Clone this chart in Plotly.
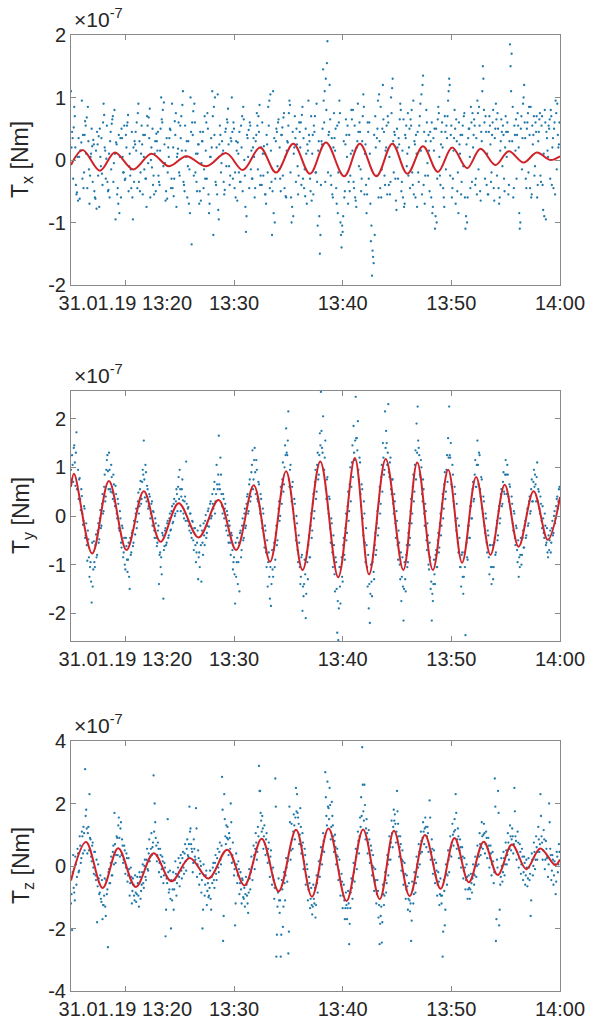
import pandas as pd
import plotly.graph_objects as go

W, H = 591, 1023
BASE = pd.Timestamp("2019-01-31 13:15:00")

# ---------------- data (units of 1e-7 Nm, time in minutes after 13:15) -------------
tick_times = ["2019-01-31 13:20", "2019-01-31 13:30", "2019-01-31 13:40",
              "2019-01-31 13:50", "2019-01-31 14:00"]
tick_text = ["31.01.19 13:20", "13:30", "13:40", "13:50", "14:00"]

# fitted (red) curves: extrema
tx_fit_t = [0, 1.07, 2.66, 4.04, 5.72, 7.40, 9.02, 10.61, 12.45, 14.28, 15.81, 17.40, 18.87,
            20.46, 21.99, 23.46, 25.14, 26.58, 28.10, 29.57, 30.95, 32.39, 33.76, 35.08,
            36.45, 37.68, 39.06, 40.28, 41.65, 42.87, 44.10, 45.0]
tx_fit_v = [-0.08, 0.16, -0.17, 0.12, -0.15, 0.10, -0.10, 0.06, -0.10, 0.11, -0.16, 0.20, -0.20,
            0.26, -0.22, 0.28, -0.26, 0.26, -0.26, 0.26, -0.22, 0.22, -0.19, 0.20,
            -0.13, 0.18, -0.08, 0.14, -0.04, 0.12, 0.00, 0.06]

ty_fit_t = [0, 0.28, 1.95, 3.49, 5.11, 6.70, 8.23, 9.91, 11.74, 13.58, 15.20, 16.82, 18.32,
            19.79, 21.31, 22.94, 24.59, 26.12, 27.43, 28.96, 30.58, 31.86, 33.30, 34.71,
            35.99, 37.28, 38.60, 39.91, 41.19, 42.57, 43.88, 45.0]
ty_fit_v = [0.60, 0.87, -0.77, 0.72, -0.70, 0.51, -0.53, 0.26, -0.44, 0.33, -0.70, 0.63, -0.94,
            0.92, -1.11, 1.12, -1.26, 1.19, -1.20, 1.17, -1.11, 1.10, -1.11, 0.95,
            -0.96, 0.80, -0.80, 0.64, -0.63, 0.51, -0.49, 0.39]

tz_fit_t = [0, 1.38, 2.91, 4.34, 5.96, 7.61, 9.24, 10.92, 12.66, 14.38, 15.96, 17.55, 19.11,
            20.71, 22.17, 23.70, 25.35, 26.88, 28.41, 29.72, 31.16, 32.57, 34.01, 35.29,
            36.61, 37.98, 39.27, 40.58, 41.90, 43.18, 44.56, 45.0]
tz_fit_v = [-0.46, 0.77, -0.70, 0.57, -0.67, 0.41, -0.49, 0.26, -0.40, 0.52, -0.62, 0.87, -0.81,
            1.16, -0.98, 1.20, -1.12, 1.17, -1.06, 1.13, -0.96, 0.99, -0.73, 0.90,
            -0.52, 0.78, -0.29, 0.69, -0.10, 0.56, 0.03, 0.21]

# measured torques (blue dots): two interleaved sample sets, each one value every 6 s
tx_dots_a = [
    1.10, 0.45, -0.30, 0.85, 0.20, -0.55, 0.05, 0.35, -0.62, 0.15,
    0.95, 0.40, -0.20, 0.62, 0.10, -0.45, 0.30, -0.70, 0.05, 0.50,
    -0.35, 0.25, -0.60, 0.15, 0.45, -0.25, -0.75, 0.05, 0.35, -0.40,
    0.90, 0.20, -0.30, 0.55, -0.50, 0.10, 0.30, -0.15, 0.65, -0.35,
    0.80, -0.95, 0.25, -0.45, 0.40, 0.05, -0.60, 0.35, -0.20, 0.55,
    -0.30, 0.20, 0.60, -0.50, 0.10, -0.15, 0.45, -0.95, -0.35, 0.25,
    0.15, -0.45, 0.90, 0.30, -0.20, 0.55, -0.55, 0.05, 0.40, -0.30,
    0.70, -0.05, 0.35, -0.60, 0.20, 0.50, -0.25, 0.10, -0.50, 0.30,
    0.45, -0.35, 0.15, 1.00, 0.60, -0.10, 0.25, -0.65, 0.35, -0.20,
    0.05, 0.50, -0.45, 0.90, 0.20, -0.30, 0.40, -0.75, 0.10, 0.60,
    -0.25, 0.35, 0.15, 1.10, -0.40, 0.55, 0.05, -0.60, 0.30, -0.15,
    1.00, -1.35, 0.40, -0.25, 0.60, 0.10, -0.50, 0.25, -0.70, 0.45,
    -0.05, 0.30, -0.45, 0.70, 0.15, -0.30, 0.50, -0.85, 0.05, 0.35,
    1.10, -1.20, 0.40, -0.35, 0.20, 1.05, -0.95, 0.55, -0.20, 0.30,
    0.15, -0.55, 0.45, -0.10, 0.60, 0.25, -0.40, 0.35, 1.00, -0.30,
    0.50, -0.20, 0.30, -0.65, 0.10, 0.45, -0.35, 0.20, -0.50, 0.65,
    -0.25, -1.15, 0.40, 0.05, -0.45, 0.55, 0.15, -0.30, 0.35, -0.60,
    0.30, 0.75, -0.15, 0.45, -0.40, 0.20, 0.60, -0.25, 0.10, -0.55,
    0.40, -0.20, 0.55, -0.45, 0.15, -1.20, 1.10, 0.35, -0.30, 0.50,
    -0.10, 0.65, 0.20, -0.50, 0.40, -0.25, 0.75, 0.05, -0.60, 0.30,
    0.55, 0.95, -0.20, -1.00, 0.45, 0.10, 0.70, -0.35, 0.25, -0.55,
    0.60, 0.20, -0.40, 0.85, 0.35, -0.15, 0.50, -0.70, 0.15, 0.40,
    -0.30, 0.70, 0.10, -0.55, 0.45, -0.20, 0.90, -1.05, 0.30, -1.50,
    -0.40, 0.25, 1.45, 0.60, -0.35, 0.80, 1.90, 0.40, 1.20, -0.25,
    0.35, -0.60, 0.75, 0.15, -0.45, 0.55, -0.20, 0.95, -1.00, -1.40,
    -1.15, 0.30, -0.50, 0.65, 0.05, -0.70, 0.40, -0.25, 0.80, 0.15,
    -0.35, 0.55, -0.65, 0.20, 0.90, -0.10, 0.45, -0.50, 0.30, 1.05,
    -0.55, 0.25, -0.85, 0.60, -0.30, 0.10, -1.30, -1.85, -1.55, 0.40,
    0.70, -0.25, 0.50, -0.60, 0.30, 0.85, -0.15, 1.20, 0.45, -0.40,
    0.20, -0.55, 0.60, 0.05, -0.35, 0.75, 1.30, -0.20, 0.40, -0.65,
    0.50, -0.30, 0.25, 0.90, -0.50, 0.15, 0.65, -0.70, 0.35, -0.10,
    0.75, 0.20, -0.45, 0.55, -0.20, 0.95, 0.30, -0.60, 0.10, 0.45,
    -0.35, 0.70, 0.15, -0.55, 1.35, 0.45, -0.25, 0.80, -0.05, 0.40,
    -0.50, 0.30, 0.60, -0.75, 0.15, -1.10, 0.50, -0.30, 0.85, 0.05,
    -0.40, 0.45, 0.20, -0.60, 0.70, -0.15, 0.35, 0.95, 1.30, -0.25,
    0.55, -0.45, 0.15, 0.80, -0.70, 0.30, -0.20, 0.60, 0.10, -0.55,
    0.40, -0.10, 0.75, -1.10, 0.25, -0.60, 0.50, 0.05, 0.85, -0.35,
    0.20, 0.65, -0.40, 0.35, 0.95, -0.15, 0.55, -0.65, 0.30, 1.50,
    0.80, -0.30, 0.45, 0.10, -0.55, 0.70, 0.25, -0.20, 0.60, -0.45,
    0.35, 0.90, -0.25, 0.50, -0.70, 0.15, 0.65, -0.10, 0.40, -0.50,
    0.70, 0.05, 0.45, -0.40, 1.85, 1.10, 0.30, -0.60, 0.55, 0.15,
    -0.30, 0.75, 0.20, -1.10, 0.50, -0.15, 0.90, 1.20, 0.35, -0.45,
    0.60, -0.20, 0.40, 0.85, -0.55, 0.25, 0.70, -0.10, 0.45, -0.60,
    0.30, 0.65, -0.25, 0.55, -0.40, 0.10, 0.80, -0.95, 0.35, 0.05,
    0.50, -0.30, 0.70, 0.20, -0.45, 0.60, 0.95, -0.15, 0.40, 0.25,
]
tx_dots_b = [
    0.20, 0.35, 0.52, 0.70, -0.40, -0.52, -0.65, 0.05, 0.15, 0.28,
    -0.30, -0.45, 0.40, 0.55, 0.68, 0.85, -0.15, -0.25, 0.10, 0.22,
    0.32, -0.50, -0.62, -0.78, 0.25, 0.38, 0.50, -0.10, -0.22, 0.60,
    0.72, 0.15, 0.02, -0.35, -0.48, -0.60, 0.45, 0.58, 0.70, -0.05,
    0.10, 0.28, -0.55, -0.70, -0.85, 0.35, 0.50, 0.05, -0.20, -0.32,
    0.40, 0.55, 0.72, -0.10, -0.25, -0.45, -0.60, 0.20, 0.30, 0.45,
    0.60, 0.75, -0.35, -0.50, 0.10, 0.25, 0.40, -0.15, -0.30, -0.75,
    0.55, 0.68, 0.82, 0.00, -0.12, -0.40, -0.55, 0.30, 0.42, 0.15,
    -0.25, -0.40, 0.50, 0.65, 0.80, 0.92, -0.05, -0.50, -0.62, 0.20,
    0.35, 0.48, -0.30, -0.45, -0.58, 0.62, 0.75, 0.05, 0.18, -0.20,
    0.55, 0.70, 0.88, -0.35, -0.50, 0.15, 0.30, -0.10, -0.70, -0.85,
    0.45, 0.60, 0.78, 0.90, -0.20, -0.35, 0.10, 0.25, -0.50, -0.65,
    0.30, 0.45, -0.15, -0.30, 0.60, 0.75, -0.55, -0.70, 0.05, 0.20,
    0.70, 0.85, 1.00, -0.40, -0.55, -0.80, 0.25, 0.40, -0.05, 0.10,
    -0.35, -0.48, 0.50, 0.65, 0.82, -0.10, -0.25, 0.30, 0.45, 0.60,
    -0.45, -0.60, 0.15, 0.28, -0.20, -0.35, 0.55, 0.70, 0.85, 0.00,
    -0.75, -0.90, 0.35, 0.48, 0.60, -0.15, -0.30, 0.20, 0.05, -0.45,
    0.40, 0.55, 0.70, 0.88, -0.25, -0.40, 0.10, 0.22, -0.55, -0.70,
    0.25, 0.85, 0.95, 1.05, -0.35, -0.50, -0.85, -1.00, 0.30, 0.45,
    0.60, -0.15, -0.30, 0.40, 0.52, 0.68, -0.45, -0.58, 0.15, 0.28,
    0.75, 0.88, -0.60, -0.75, -0.90, 0.20, 0.35, 0.50, -0.10, -0.25,
    0.45, 0.60, 0.72, -0.30, -0.45, -0.58, 0.10, 0.25, 0.95, 0.30,
    -0.50, -0.65, 0.40, 0.55, 0.70, -0.20, -0.35, 0.15, -0.90, -1.20,
    0.30, 0.50, 0.95, 1.10, 1.30, 1.55, -0.20, 0.45, 0.65, -0.40,
    -0.55, 0.20, 0.35, 0.50, -0.70, -0.85, 0.60, 0.75, -1.20, -1.05,
    -0.90, -0.60, 0.25, 0.40, 0.55, -0.35, -0.50, 0.10, 0.65, 0.80,
    -0.45, -0.60, -0.75, 0.30, 0.45, 0.60, -0.15, -0.30, 0.70, 0.85,
    0.10, -0.40, -0.55, 0.45, 0.60, -0.70, -1.05, -1.45, -1.65, -1.20,
    0.20, 0.35, 0.95, 1.05, -0.45, -0.60, 0.50, 0.65, -0.25, 0.15,
    0.55, 0.70, -0.40, -0.55, 1.00, 1.15, 0.30, 0.45, -0.30, -0.80,
    0.20, 0.35, 0.65, 0.80, -0.35, -0.60, -0.75, 0.40, 0.55, 0.10,
    -0.25, 0.50, 0.65, 0.80, -0.40, -0.55, 0.25, 0.40, -0.75, -0.20,
    0.55, 0.90, 1.05, 1.20, -0.40, -0.70, 0.30, 0.60, -0.25, 0.15,
    0.45, -0.60, -0.85, 0.35, 0.50, -0.90, -1.00, 0.65, 0.75, -0.25,
    0.25, 0.60, -0.45, -0.75, 0.45, 0.55, 0.70, 1.10, 1.20, 0.40,
    -0.60, -0.30, 0.35, 0.50, 0.65, -0.50, -0.85, 0.25, 0.40, -0.35,
    0.55, 0.70, -0.60, -0.90, -1.00, 0.35, 0.50, -0.45, 0.60, 0.75,
    0.40, 0.55, -0.30, -0.55, 0.75, 0.85, -0.50, 0.45, 1.10, 1.30,
    0.60, 0.70, -0.40, -0.55, 0.45, 0.55, -0.35, 0.40, 0.80, -0.65,
    0.50, 0.65, 0.75, -0.45, -0.60, 0.30, 0.45, 0.55, -0.30, 0.20,
    0.45, 0.60, -0.55, 0.30, 1.50, 1.70, 0.85, -0.45, 0.40, 0.65,
    0.40, 0.55, -0.85, -1.00, 0.70, 0.35, 1.00, 0.60, -0.30, 0.50,
    0.75, 0.85, -0.45, -0.60, 0.55, 0.40, -0.25, 0.60, 0.70, -0.40,
    0.45, 0.75, -0.35, 0.70, -0.80, -0.90, 0.60, 0.45, 0.15, 0.55,
    0.65, 0.80, -0.40, 0.35, 0.50, -0.55, 0.75, 0.90, 0.20, 0.60,
]

ty_dots_a = [
    0.95, 1.25, 0.70,
    1.45, 0.62, 1.72, 0.55, 0.35, 0.78, 0.12, 0.41, -0.18, 0.20, -0.45, -0.15, -0.92, -0.48, -1.25, -0.95, -1.78,
    -1.45, -0.52, -1.05, -0.38, -0.80, -0.15, -0.48, 0.12, -0.20, 0.45, 0.10, 0.85, 0.40, 1.15, 0.92,
    1.30, 0.55, 1.05, 0.48, 0.85, 0.30, 0.62, 0.05, 0.35, -0.25, 0.10, -0.55, -0.20, -0.85, -0.45, -1.10, -0.62,
    -1.15, -0.55, -1.50, -0.80, -0.35, -0.62, -0.10, -0.38, 0.15, -0.12, 0.48, 0.20, 0.72, 0.35, 0.95,
    1.55, 0.38, 0.90, 0.62, 0.15, 0.45, -0.05, 0.25, -0.20, 0.08, -0.45, -0.15, -0.62, -0.30, -1.40, -0.75,
    -0.85, -0.35, -1.70, -0.62, -0.25, -0.55, -0.10, -0.40, 0.05, -0.28, 0.20, -0.12, 0.35, 0.05, 0.55, 0.10, 0.80,
    0.95, 0.10, 0.55, 0.32, -0.05, 0.40, 1.12, -0.10, 0.18, -0.30, 0.05, -0.45, -0.12, -0.70, -0.25, -0.95, -0.55, -1.30,
    -0.75, -0.20, -1.35, -0.55, -0.15, -0.60, 0.02, -0.35, 0.10, -0.22, 0.25, -0.05, 0.45, 0.15, 0.70, 0.30, 1.05, 0.55,
    1.65, 0.55, 0.85, 0.20, 0.45, -0.05, 0.25, -0.30, 0.02, -0.55, -0.20, -0.80, -0.40, -1.10, -0.85, -1.80,
    -1.25, -0.45, -0.95, -1.55, -0.30, -0.70, -0.05, -0.45, 0.15, -0.20, 0.40, 0.05, 0.65, 0.30, 0.90, 1.35, 0.75,
    1.40, 0.45, 0.95, 0.30, 0.65, 0.05, 0.35, -0.25, 0.05, -0.65, -0.30, -1.05, -1.45, -0.75, -1.70,
    -1.85, -0.70, -1.25, -0.55, -0.90, -0.20, -0.50, 0.15, -0.10, 0.60, 0.25, 1.10, 0.65, 1.45,
    1.80, 1.25, 2.15, 0.60, 1.05, 0.30, 0.70, -0.05, 0.25, -0.50, -0.15, -0.95, -0.55, -1.40, -0.85, -1.95,
    -1.65, -0.90, -2.10, -0.75, -1.30, -0.40, -0.85, 0.05, -0.30, 0.45, 0.10, 0.95, 0.50, 1.30, 0.85, 1.70,
    2.55, 1.40, 2.05, 0.95, 1.55, 0.35, 0.80, 0.05, 0.35, -0.55, -0.15, -1.05, -0.60, -1.55, -0.95, -2.40,
    -2.55, -1.05, -1.80, -0.85, -1.35, -0.45, -0.90, 0.05, -0.35, 0.50, 0.10, 1.00, 0.60, 1.45, 1.85, 1.15,
    2.45, 1.60, 1.95, 0.75, 1.10, 0.20, 0.55, -0.40, 0.05, -0.95, -0.60, -1.45, -1.90,
    -2.20, -1.00, -1.65, -0.80, -1.30, -0.35, -0.70, 0.10, -0.25, 0.60, 0.25, 1.05, 1.50, 0.85, 2.15,
    1.75, 1.05, 2.30, 0.80, 1.20, 0.45, 0.75, 0.05, 0.30, -0.45, -0.10, -0.90, -0.55, -1.30, -1.75, -0.85,
    -2.15, -0.95, -1.55, -0.60, -0.95, -0.15, -0.45, 0.35, 0.05, 0.85, 0.50, 1.35, 1.90,
    2.25, 1.40, 0.85, 1.15, 0.45, 0.75, 0.05, 0.25, -0.50, -0.15, -1.00, -0.55, -1.50, -2.15,
    -1.75, -0.90, -1.40, -0.70, -1.05, -0.35, -0.65, 0.05, -0.20, 0.45, 0.15, 0.90, 0.50, 1.25, 1.60,
    2.25, 1.20, 0.65, 1.05, 0.30, 0.60, -0.10, 0.25, -0.55, -0.20, -1.05, -1.45, -0.75,
    -1.60, -0.75, -2.45, -0.55, -0.90, -0.20, -0.45, 0.20, -0.05, 0.70, 0.35, 1.15, 0.60,
    1.55, 0.65, 1.25, 0.40, 0.75, 0.05, 0.30, -0.35, -0.05, -0.75, -0.40, -1.20, -0.60,
    -1.40, -0.60, -1.05, -0.45, -0.75, -0.10, -0.40, 0.20, -0.05, 0.55, 0.25, 0.90, 0.45,
    1.15, 0.45, 0.85, 0.30, 0.60, 0.05, 0.25, -0.30, 0.05, -0.60, -0.25, -0.95, -1.25,
    -1.05, -0.45, -0.80, -0.30, -0.65, -0.10, -0.40, 0.15, -0.15, 0.40, 0.10, 0.75, 0.30, 0.95,
    0.85, 0.30, 1.10, 0.55, 0.15, 0.40, -0.10, 0.20, -0.35, 0.05, -0.60, -0.25, -0.85,
    -0.70, -0.30, -0.55, -0.10, -0.35, 0.10, -0.05, 0.35, 0.15, 0.55,
]
ty_dots_b = [
    0.75, 1.05, 1.40,
    1.10, 1.30, 0.55, 0.95, 0.75, 0.35, 0.55, 0.05, -0.10, 0.15, -0.40, -0.60, -0.30, -0.85, -1.05, -1.35, -0.55,
    -1.10, -0.95, -0.60, -0.85, -0.30, -0.55, -0.05, -0.25, 0.25, 0.05, 0.60, 0.30, 0.95, 1.25, 0.55,
    0.95, 0.50, 0.80, 0.35, 0.65, 0.20, 0.45, -0.05, 0.25, -0.30, -0.05, -0.65, -0.25, -0.75, -1.00, -0.45, -0.90,
    -0.90, -1.25, -0.45, -0.75, -0.30, -0.55, -0.10, 0.05, -0.25, 0.30, 0.05, 0.55, 0.25, 0.70, 0.85,
    0.75, 1.05, 0.30, 0.55, 0.20, 0.40, 0.05, 0.30, 0.10, -0.30, -0.05, -0.45, -0.55, -0.20, -0.80, -1.05,
    -1.20, -0.40, -0.70, -0.30, -0.60, -0.15, -0.45, -0.05, -0.30, 0.10, -0.15, 0.25, 0.00, 0.30, 0.45, 0.60, 0.35,
    0.55, 0.40, 0.75, 0.05, 0.30, -0.10, 0.25, 0.15, -0.20, 0.05, -0.35, -0.10, -0.50, -0.25, -0.60, -0.75, -0.30, -0.85,
    -1.05, -0.60, -0.30, -0.80, -0.40, -0.10, -0.45, -0.20, 0.15, -0.05, 0.30, 0.00, 0.25, 0.55, 0.05, 0.45, 0.65, 0.85,
    0.65, 1.20, 0.45, 0.05, 0.35, 0.15, -0.20, 0.10, -0.40, -0.10, -0.55, -0.35, -0.70, -0.95, -1.20, -0.55,
    -0.95, -1.40, -0.55, -0.35, -0.85, -0.20, -0.50, 0.05, -0.25, 0.25, 0.45, 0.10, 0.75, 0.40, 1.05, 0.55, 1.15,
    0.90, 1.15, 0.35, 0.70, 0.20, 0.45, -0.10, 0.15, -0.40, -0.20, -0.75, -0.50, -0.95, -1.25, -1.05,
    -1.40, -1.10, -0.70, -1.05, -0.35, -0.60, -0.05, 0.30, 0.00, 0.45, 0.75, 0.50, 1.00, 1.25,
    1.30, 1.55, 0.75, 0.95, 0.45, 0.60, 0.15, 0.35, -0.25, 0.00, -0.70, -0.40, -1.05, -1.25, -0.80, -1.45,
    -1.40, -1.20, -1.60, -0.95, -0.60, -0.85, -0.20, -0.45, 0.25, -0.05, 0.70, 0.35, 1.05, 0.75, 1.25, 1.45,
    1.75, 1.30, 0.95, 1.20, 0.55, 0.75, 0.15, 0.40, -0.25, -0.05, -0.75, -0.40, -1.20, -0.85, -1.50, -1.75,
    -1.90, -1.45, -1.05, -1.25, -0.60, -0.80, -0.25, -0.50, 0.20, -0.10, 0.65, 0.30, 1.10, 0.80, 1.30, 1.55,
    1.60, 1.35, 0.95, 1.20, 0.45, 0.65, -0.05, 0.30, -0.55, -0.25, -1.05, -0.80, -1.40,
    -1.60, -1.35, -0.95, -1.15, -0.60, -0.80, -0.15, -0.40, 0.30, 0.05, 0.80, 0.50, 1.20, 0.95, 1.40,
    1.50, 1.30, 0.90, 1.10, 0.55, 0.75, 0.25, 0.45, -0.15, 0.10, -0.60, -0.30, -1.00, -0.75, -1.25, -1.45,
    -1.50, -1.30, -0.80, -1.05, -0.35, -0.60, 0.10, -0.15, 0.60, 0.30, 1.05, 0.75, 1.30,
    1.55, 1.25, 0.80, 1.00, 0.30, 0.55, -0.20, 0.10, -0.70, -0.40, -1.10, -0.85, -1.35, -1.60,
    -1.40, -1.20, -0.80, -1.05, -0.50, -0.75, -0.15, -0.40, 0.25, -0.05, 0.65, 0.35, 0.95, 0.70, 1.20,
    1.25, 1.50, 0.60, 0.85, 0.20, 0.45, -0.30, -0.05, -0.75, -0.45, -1.05, -0.80, -1.25,
    -1.25, -1.05, -0.60, -0.85, -0.20, -0.45, 0.20, -0.05, 0.55, 0.30, 0.85, 0.60, 1.05,
    1.05, 1.30, 0.55, 0.80, 0.15, 0.40, -0.20, 0.05, -0.55, -0.30, -0.85, -0.60, -1.05,
    -1.05, -1.30, -0.55, -0.80, -0.25, -0.50, 0.10, -0.15, 0.45, 0.20, 0.70, 0.50, 0.85,
    0.85, 1.05, 0.40, 0.65, 0.15, 0.40, -0.15, 0.10, -0.45, -0.20, -0.70, -0.50, -0.85,
    -0.80, -1.00, -0.45, -0.65, -0.20, -0.45, 0.05, -0.20, 0.30, 0.05, 0.55, 0.30, 0.70, 0.60,
    0.65, 0.80, 0.30, 0.50, 0.05, 0.25, -0.25, -0.05, -0.45, -0.20, -0.55, -0.75, -0.40,
    -0.50, -0.75, -0.25, -0.40, 0.00, -0.15, 0.20, 0.40, 0.30, 0.60,
]

tz_dots_a = [
    -1.20, -2.05, 0.35, -0.85, 0.30, -0.60, 0.55, -0.20, 0.95, 0.10, 1.10, 0.40, 1.05, 3.10,
    1.80, 0.40, 1.25, 2.30, 0.85, 0.15, 0.75, -0.25, 0.45, -0.45, -1.80, 0.05, -0.90, -0.30, -1.15, -1.70,
    -1.25, -0.40, -1.60, -0.90, -2.60, -0.10, -0.55, 0.30, -0.30, 0.65, 1.70, 0.10, 0.95, 0.35,
    1.55, 0.30, 1.40, 0.85, 0.10, 0.65, -0.25, 0.40, -0.50, 0.25, -0.95, -0.05, -1.20, -0.40, -0.95, -0.30,
    -1.15, -0.35, -0.95, -0.20, -1.05, -0.60, 0.05, -0.70, 0.20, -0.45, 0.55, -0.15, 0.85, 0.30, 1.05, 0.60, 2.90,
    2.00, 0.90, 0.15, 0.75, -0.20, 0.55, -0.35, 0.30, -0.55, 0.10, -2.25, -0.40, 1.50, -0.85, -0.15, -2.00,
    -1.10, -0.20, -0.75, 0.15, -0.95, -0.30, 0.25, -0.65, 0.35, -0.40, 0.45, -0.25, 0.70, -0.15, 0.85, 0.30, 1.90,
    1.20, 0.55, -0.20, 0.85, 0.30, 1.85, -0.35, 0.50, -0.60, 0.15, -0.85, -2.00, 0.05, -0.95, -0.30, -1.25, -0.55,
    -0.95, -0.15, -1.40, -0.55, 0.10, -0.70, 0.35, -0.45, 0.55, -0.20, 0.75, 0.05, 2.85, -2.40, 2.30, 0.95, 1.30,
    1.25, 0.35, 0.90, 2.00, 0.10, 0.75, -0.30, -1.90, 0.40, -0.55, 0.15, -0.90, -0.20, -1.20, -0.45, -1.05,
    -1.30, -0.35, -0.95, -1.50, -0.10, -0.75, 0.30, -0.45, 0.65, -0.10, 1.05, 0.20, 1.25, 3.20, 2.40, 1.45,
    1.60, 0.55, 1.30, 0.35, 1.05, 0.10, 0.75, -0.35, 0.50, -0.60, -0.05, -1.05, 2.80, -2.90, -1.30, -0.40,
    -1.50, -2.90, -0.45, -1.95, -0.20, -1.10, 0.25, -0.50, -2.80, 1.90, 0.20, 1.35, 0.55, 1.65, 0.85, 2.50,
    2.30, 1.55, 0.70, 1.85, 0.40, 1.05, -0.10, 0.55, -0.60, 0.05, -1.10, -0.35, -1.35, -0.70,
    -1.55, -0.60, -1.20, -1.65, -0.30, -0.85, 0.15, -0.35, 0.60, 0.05, 1.05, 0.45, 3.00, 1.60, 2.70,
    1.85, 2.50, 0.85, 2.05, 1.30, 0.45, 1.00, 0.05, 0.55, -0.45, 0.20, -0.95, -0.25, -1.35, -0.60, -1.70, -0.85,
    -1.70, -0.80, -2.50, -1.35, -0.40, -1.05, 0.10, -0.50, 0.55, -0.10, 1.10, 0.40, 1.55, 2.20, 3.80,
    1.75, 2.60, 0.85, 1.50, 0.40, 1.15, 0.10, 0.65, -0.30, 0.35, -0.80, -0.10, -1.20, -0.45, -1.65, -2.50,
    -1.60, -2.45, -0.60, -1.25, -0.20, -0.85, 0.35, -0.30, 0.95, 0.20, 1.45, 0.60, 1.80,
    1.65, 0.75, 2.40, 1.35, 0.30, 0.95, -0.15, 0.50, -0.60, 0.10, -1.05, -0.30, -1.40, -0.55,
    -1.45, -2.40, -0.50, -1.20, -0.20, -0.85, 0.30, -0.35, 0.70, 0.05, 1.10, 0.45, 1.40, 0.70,
    1.55, 0.60, 1.25, 0.45, 2.10, 0.20, 0.85, -0.25, 0.50, -0.55, 0.10, -0.95, -0.20, -1.25, -0.40,
    -1.20, -2.90, -0.45, -1.90, 0.05, -0.60, 0.50, -0.20, 0.95, 0.30, 1.35, 0.65,
    1.50, 2.30, 0.55, 1.20, 0.25, 0.85, -0.05, 0.60, -0.40, 0.25, -0.75, 0.05, -1.05, -0.30,
    -1.05, -0.25, -0.85, 0.05, -0.60, 0.30, -0.35, 0.65, 0.05, 1.05, 0.35, 1.40, 0.55,
    1.35, 0.40, 1.10, 0.25, 0.90, -0.05, 0.65, -0.30, 0.45, -0.55, 2.80, -2.40, 0.20,
    2.40, -1.90, -0.60, 0.25, -0.50, 0.45, -0.30, 0.75, 0.05, 1.05, 0.20, 1.30, 0.50,
    1.20, 0.40, 2.50, 0.95, 0.20, 1.10, -0.05, 0.70, -0.25, 0.55, -0.45, 0.30, -0.60, 0.20,
    -0.65, 0.25, -0.45, -1.60, 0.40, -0.30, 0.75, -0.10, 0.95, 0.20, 1.25, 0.45,
    2.30, 0.95, 0.20, 1.15, -0.10, 0.80, 0.25, -0.35, 2.00, 0.55, -0.45, 0.35, -0.60, 0.15,
    -0.90, 0.45, -0.20, 0.70,
]
tz_dots_b = [
    -0.90, -0.20, -0.70, -1.10, 0.05, -0.35, 0.40, -0.15, 0.65, 0.25, 0.95, 1.25, 0.50, 1.60,
    1.20, 1.05, 0.50, 0.90, 0.30, 0.65, -0.05, 0.45, -0.30, 0.20, -0.65, -0.40, -0.85, -1.05, -0.45, -1.25,
    -0.95, -1.30, -0.45, -0.75, -0.20, -0.55, 0.10, -0.30, 0.45, 0.05, 0.70, 0.35, 0.90, 1.30,
    0.90, 1.20, 0.35, 0.65, 0.20, 0.50, -0.05, 0.25, -0.30, -0.10, -0.55, -0.35, -0.80, -0.60, -1.10, -0.85,
    -0.90, -0.55, -1.30, -0.35, -0.80, -0.20, -0.55, 0.00, -0.35, 0.20, -0.10, 0.40, 0.15, 0.55, 0.35, 0.75, 1.10,
    1.40, 0.65, 0.35, 0.55, 0.10, 0.35, -0.10, 0.15, -0.30, -0.05, -1.40, -0.55, -0.20, -0.75, -1.05, -0.45,
    -0.75, -1.40, -0.45, -0.25, -0.55, -0.05, -0.35, 0.10, -0.15, 0.25, -0.05, 0.40, 0.15, 0.55, 0.35, 0.70, 1.10,
    0.70, 0.45, 0.10, 0.55, 0.20, 1.20, 0.05, 0.25, -0.25, 0.00, -0.45, -1.40, -0.30, -0.60, -0.15, -0.80, -1.00,
    -0.70, -1.05, -0.35, -0.05, -0.45, 0.10, -0.25, 0.25, -0.05, 0.45, 0.20, 0.65, 1.80, -1.60, 1.50, 0.70, 0.90,
    0.85, 1.05, 0.55, 1.40, 0.35, 0.15, -0.10, -1.20, 0.05, -0.30, -0.10, -0.55, -0.75, -0.40, -1.00, -0.70,
    -0.90, -0.60, -1.20, -0.85, -0.40, -0.20, -0.05, 0.10, 0.35, 0.55, 0.75, 0.45, 0.95, 2.40, 1.70, 1.10,
    1.20, 0.95, 0.70, 0.85, 0.40, 0.55, 0.15, 0.30, -0.10, -0.30, -0.45, -0.70, 1.90, -2.20, -0.85, -1.10,
    -1.10, -2.20, -0.75, -1.30, -0.55, -0.30, -0.05, 0.15, -2.10, 1.40, 0.50, 0.85, 1.10, 1.30, 1.55, 1.75,
    1.70, 1.35, 1.00, 1.25, 0.65, 0.75, 0.15, 0.35, -0.30, -0.10, -0.75, -0.55, -1.05, -1.25,
    -1.30, -1.05, -0.70, -1.25, -0.55, -0.30, -0.10, 0.20, 0.35, 0.50, 0.80, 0.95, 2.20, 1.30, 1.90,
    1.50, 1.95, 1.25, 1.60, 0.95, 0.80, 0.60, 0.35, 0.30, -0.15, -0.40, -0.60, -0.50, -0.95, -1.10, -1.35, -1.25,
    -1.35, -1.20, -1.85, -0.85, -0.70, -0.45, -0.20, 0.05, 0.30, 0.55, 0.80, 0.95, 1.25, 1.60, 2.60,
    1.45, 1.95, 1.20, 1.05, 0.75, 0.85, 0.35, 0.50, 0.00, -0.05, -0.50, -0.45, -0.90, -0.80, -1.25, -1.85,
    -1.30, -1.80, -0.90, -0.95, -0.45, -0.55, 0.05, 0.20, 0.60, 0.75, 1.05, 1.25, 1.45,
    1.35, 1.10, 1.75, 0.95, 0.60, 0.70, 0.20, 0.15, -0.30, -0.25, -0.75, -0.65, -1.05, -1.10,
    -1.20, -1.75, -0.75, -0.90, -0.40, -0.55, 0.05, -0.05, 0.45, 0.40, 0.80, 0.90, 1.10, 1.20,
    1.25, 0.95, 1.05, 0.70, 1.55, 0.45, 0.55, 0.05, 0.20, -0.30, -0.15, -0.60, -0.50, -0.90, -0.95,
    -0.95, -2.10, -0.80, -1.40, -0.25, -0.30, 0.20, 0.35, 0.60, 0.75, 1.00, 1.10,
    1.15, 1.70, 0.85, 0.95, 0.50, 0.60, 0.20, 0.30, -0.15, -0.05, -0.45, -0.35, -0.75, -0.70,
    -0.75, -0.55, -0.40, -0.25, -0.30, 0.05, 0.00, 0.35, 0.30, 0.70, 0.60, 0.95, 1.00,
    1.05, 0.70, 0.90, 0.55, 0.65, 0.25, 0.40, 0.05, 0.15, -0.20, 1.90, -1.70, -0.05,
    1.70, -1.40, -0.35, 0.00, -0.20, 0.25, 0.05, 0.50, 0.35, 0.75, 0.55, 0.95, 0.85,
    0.95, 0.70, 1.75, 0.80, 0.45, 0.75, 0.25, 0.45, 0.05, 0.30, -0.20, 0.10, -0.30, -0.05,
    -0.40, -0.05, -0.25, -1.10, 0.20, 0.00, 0.45, 0.20, 0.60, 0.45, 0.85, 0.70,
    1.60, 0.75, 0.50, 0.85, 0.20, 0.55, 0.30, 0.05, 1.40, 0.35, -0.15, 0.20, -0.30, 0.05,
    -0.50, 0.30, 0.05, 0.45,
]

panels = [
    dict(a=tx_dots_a, b=tx_dots_b, ft=tx_fit_t, fv=tx_fit_v, rng=[-2, 2], tv=[-2, -1, 0, 1, 2],
         title="T<sub>x</sub> [Nm]", top=35, bot=285),
    dict(a=ty_dots_a, b=ty_dots_b, ft=ty_fit_t, fv=ty_fit_v, rng=[-2.57, 2.57], tv=[-2, -1, 0, 1, 2],
         title="T<sub>y</sub> [Nm]", top=391, bot=641),
    dict(a=tz_dots_a, b=tz_dots_b, ft=tz_fit_t, fv=tz_fit_v, rng=[-4, 4], tv=[-4, -2, 0, 2, 4],
         title="T<sub>z</sub> [Nm]", top=741, bot=991),
]

# ---------------- figure ----------------
FONT = "Liberation Sans, Arial, Helvetica, sans-serif"
AXC = "#8a8a8a"
TXT = "#262626"
DOT = "#2079ab"
RED = "#cf2329"
X0, X1 = 71, 560

def minutes_to_time(vals):
    return BASE + pd.to_timedelta(pd.Series(vals, dtype=float), unit="min")

fig = go.Figure()
annotations = []
for i, p in enumerate(panels, start=1):
    xa = "x" if i == 1 else f"x{i}"
    ya = "y" if i == 1 else f"y{i}"
    xs, ys = [], []
    for vals, off in ((p["a"], 0.0), (p["b"], 0.5)):
        n = len(vals)
        xs += [45.0 * (k + off) / n for k in range(n)]
        ys += list(vals)
    fig.add_trace(go.Scatter(x=minutes_to_time(xs), y=ys, mode="markers",
                             marker=dict(size=2.3, color=DOT, line=dict(width=0)),
                             xaxis=xa, yaxis=ya, showlegend=False, hoverinfo="skip"))
    fig.add_trace(go.Scatter(x=minutes_to_time(p["ft"]), y=p["fv"], mode="lines",
                             line=dict(color=RED, width=2, shape="spline", smoothing=1.0),
                             xaxis=xa, yaxis=ya, showlegend=False, hoverinfo="skip"))
    yd = [1 - p["bot"] / H, 1 - p["top"] / H]
    xkey = "xaxis" if i == 1 else f"xaxis{i}"
    ykey = "yaxis" if i == 1 else f"yaxis{i}"
    fig.update_layout(**{
        xkey: dict(domain=[X0 / W, X1 / W], anchor=ya, type="date",
                   range=["2019-01-31 13:15:00", "2019-01-31 14:00:00"],
                   tickmode="array", tickvals=tick_times, ticktext=tick_text,
                   ticks="inside", ticklen=5, tickcolor=AXC, showline=True, linecolor=AXC,
                   linewidth=1, mirror="ticks", showgrid=False, zeroline=False,
                   tickfont=dict(family=FONT, size=20, color=TXT), automargin=False),
        ykey: dict(domain=yd, anchor=xa, range=p["rng"], tickmode="array",
                   tickvals=p["tv"], ticktext=[str(v) for v in p["tv"]],
                   ticks="inside", ticklen=5, tickcolor=AXC, showline=True, linecolor=AXC,
                   linewidth=1, mirror="ticks", showgrid=False, zeroline=False,
                   tickfont=dict(family=FONT, size=20, color=TXT), automargin=False),
    })
    annotations.append(dict(text=p["title"], xref="paper", yref="paper",
                            x=22 / W, y=1 - (p["top"] + p["bot"]) / 2 / H,
                            xanchor="center", yanchor="middle", textangle=-90,
                            showarrow=False, font=dict(family=FONT, size=23, color=TXT)))
    annotations.append(dict(text="×10<sup>-7</sup>", xref="paper", yref="paper",
                            x=(X0 + 1) / W, y=1 - (p["top"] - 2) / H,
                            xanchor="left", yanchor="bottom", showarrow=False,
                            font=dict(family=FONT, size=21, color=TXT)))

fig.update_layout(width=W, height=H, margin=dict(l=0, r=0, t=0, b=0),
                  paper_bgcolor="white", plot_bgcolor="white",
                  annotations=annotations, showlegend=False)

fig.write_html("out.html", config={"displayModeBar": False},
               post_script="document.body.style.margin='0';document.body.style.overflow='hidden';")
